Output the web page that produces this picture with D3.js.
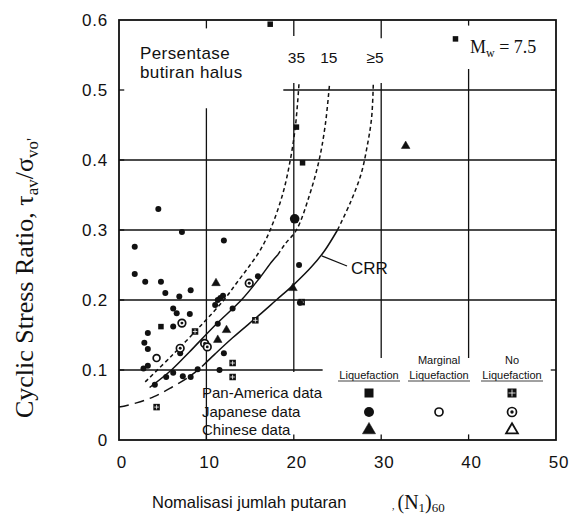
<!DOCTYPE html>
<html>
<head>
<meta charset="utf-8">
<script src="https://cdn.jsdelivr.net/npm/d3@7"></script>
<style>
  body { margin: 0; background: #fff; }
  text { fill: #111; }
</style>
</head>
<body>
<div id="chart"></div>
<script>
// tick values
const xTicks = [0, 10, 20, 30, 40, 50];
const yTicks = [0, 0.1, 0.2, 0.3, 0.4, 0.5, 0.6];

// curves: fines content 35%, 15%, <=5% (CRR)
const curve35 = [[3, 0.083], [6, 0.12], [9.4, 0.164], [12, 0.2], [13.5, 0.225], [15, 0.25],
  [16.2, 0.272], [17.3, 0.3], [18.7, 0.35], [19.6, 0.4], [20.2, 0.45], [20.6, 0.51]];
const curve15Solid = [[3.5, 0.075], [6, 0.1], [8, 0.125], [11, 0.164], [14, 0.2], [16, 0.23],
  [17.5, 0.255], [18.2, 0.265]];
const curve15Dash = [[18.2, 0.265], [19, 0.28], [20.3, 0.3], [21.8, 0.35], [22.9, 0.4],
  [23.6, 0.45], [24.1, 0.51]];
const crrLow = [[0, 0.047], [2, 0.053], [4, 0.062], [6, 0.075], [8, 0.09], [9.5, 0.105]];
const crrSolid = [[9.5, 0.105], [11, 0.123], [13, 0.146], [16, 0.178], [18, 0.2], [20, 0.222],
  [22, 0.247], [23.5, 0.27], [25, 0.3]];
const crrHigh = [[25, 0.3], [26.5, 0.34], [27.7, 0.38], [28.4, 0.42], [28.9, 0.46], [29.1, 0.51]];
const curveLabels = ["35", "15", "\u22655"];
const curveLabelX = [20.3, 24, 29.3];

// field data
const panLiq = [[4.8, 0.162], [17.3, 0.594], [38.5, 0.573], [21, 0.396], [20.3, 0.447]];
const panNo = [[8.7, 0.155], [4.3, 0.047], [15.6, 0.171], [13, 0.11], [13, 0.09], [20.9, 0.197]];
const japLiq = [[1.8, 0.276], [4.5, 0.33], [7.2, 0.297], [12, 0.285], [1.8, 0.237], [3, 0.226],
  [4.8, 0.226], [5.3, 0.21], [8.2, 0.214], [6.9, 0.205], [6.2, 0.188], [6.6, 0.181], [8.1, 0.18],
  [6.2, 0.162], [3.3, 0.153], [2.9, 0.139], [3.3, 0.13], [7, 0.124], [2.8, 0.102], [3.3, 0.106],
  [6.2, 0.096], [7.3, 0.091], [8.2, 0.09], [9, 0.101], [11.5, 0.1], [4.1, 0.079], [5.4, 0.09],
  [11, 0.193], [11.3, 0.2], [11.6, 0.203], [11.9, 0.206], [13, 0.188], [11.3, 0.166], [12, 0.124],
  [15.9, 0.234], [20.6, 0.25], [20.1, 0.316], [20.7, 0.196]];
const japMarg = [[4.3, 0.117]];
const japNo = [[7.2, 0.167], [7, 0.131], [9.8, 0.138], [10.1, 0.133], [14.9, 0.224]];
const chnLiq = [[11.1, 0.224], [12.3, 0.157], [11.3, 0.143], [32.8, 0.42], [19.9, 0.217]];

const legendRows = ["Pan-America data", "Japanese data", "Chinese data"];

const width = 579, height = 519;
const svg = d3.select("#chart").append("svg")
  .attr("width", width).attr("height", height);

const x = d3.scaleLinear().domain([0, 50]).range([119, 556]);
const y = d3.scaleLinear().domain([0, 0.6]).range([440, 20]);

const sans = "Liberation Sans, Arial, sans-serif";
const serif = "Liberation Serif, Times New Roman, serif";

// grid lines (broken as in the original)
const g = svg.append("g").attr("stroke", "#111").attr("stroke-width", 1.3);
const hLines = [[0.5, 18.8, 50], [0.4, 0, 50], [0.3, 0, 50], [0.2, 0, 50], [0.1, 0, 23.3]];
hLines.forEach(([v, a, b]) => g.append("line")
  .attr("x1", x(a)).attr("x2", x(b)).attr("y1", y(v)).attr("y2", y(v)));
const vLines = [[10, 0, 0.474], [20, 0.097, 0.51], [30, 0.117, 0.51], [40, 0.117, 0.53]];
vLines.forEach(([v, a, b]) => g.append("line")
  .attr("x1", x(v)).attr("x2", x(v)).attr("y1", y(a)).attr("y2", y(b)));
// top ticks
[[10, 0.012], [20, 0.023], [30, 0.026], [40, 0.008]].forEach(([v, l]) => g.append("line")
  .attr("x1", x(v)).attr("x2", x(v)).attr("y1", y(0.6)).attr("y2", y(0.6 - l)));
// bottom ticks
xTicks.slice(1, -1).forEach(v => g.append("line")
  .attr("x1", x(v)).attr("x2", x(v)).attr("y1", y(0)).attr("y2", y(0.008)));
// left / right ticks
yTicks.slice(1, -1).forEach(v => {
  g.append("line").attr("x1", x(0)).attr("x2", x(0.6)).attr("y1", y(v)).attr("y2", y(v));
  g.append("line").attr("x1", x(50)).attr("x2", x(49.4)).attr("y1", y(v)).attr("y2", y(v));
});

// frame
svg.append("rect")
  .attr("x", x(0)).attr("y", y(0.6))
  .attr("width", x(50) - x(0)).attr("height", y(0) - y(0.6))
  .attr("fill", "none").attr("stroke", "#111").attr("stroke-width", 1.8);

// curves
const drawCurve = (data, dash) => svg.append("path").datum(data)
  .attr("d", d3.line().x(d => x(d[0])).y(d => y(d[1])).curve(d3.curveCatmullRom))
  .attr("fill", "none").attr("stroke", "#111").attr("stroke-width", 1.5)
  .attr("stroke-dasharray", dash);
drawCurve(curve35, "4,3");
drawCurve(curve15Solid, null);
drawCurve(curve15Dash, "4,3");
drawCurve(crrLow, "10,6");
drawCurve(crrSolid, null);
drawCurve(crrHigh, "4,3");

// markers
const S = 5.5;
function fillSquare(sel, d) {
  sel.append("rect").attr("x", x(d[0]) - S / 2).attr("y", y(d[1]) - S / 2)
    .attr("width", S).attr("height", S).attr("fill", "#111");
}
function crossSquare(sel, d, s = 6.5) {
  const cx = x(d[0]), cy = y(d[1]);
  sel.append("rect").attr("x", cx - s / 2).attr("y", cy - s / 2)
    .attr("width", s).attr("height", s).attr("fill", "#111");
  sel.append("path").attr("d", `M${cx - s / 2 + 1},${cy}H${cx + s / 2 - 1}M${cx},${cy - s / 2 + 1}V${cy + s / 2 - 1}`)
    .attr("stroke", "#fff").attr("stroke-width", 0.8);
}
function fillCircle(sel, d, r = 3) {
  sel.append("circle").attr("cx", x(d[0])).attr("cy", y(d[1])).attr("r", r).attr("fill", "#111");
}
function openCircle(sel, d, r = 3.4) {
  sel.append("circle").attr("cx", x(d[0])).attr("cy", y(d[1])).attr("r", r)
    .attr("fill", "#fff").attr("stroke", "#111").attr("stroke-width", 1.7);
}
function dotCircle(sel, d, r = 3.8) {
  openCircle(sel, d, r);
  sel.append("circle").attr("cx", x(d[0])).attr("cy", y(d[1])).attr("r", r * 0.38).attr("fill", "#111");
}
function triangle(sel, d, size, filled) {
  sel.append("path").attr("d", d3.symbol(d3.symbolTriangle, size)())
    .attr("transform", `translate(${x(d[0])},${y(d[1])})`)
    .attr("fill", filled ? "#111" : "#fff").attr("stroke", "#111")
    .attr("stroke-width", filled ? 0.5 : 1.8);
}

const pts = svg.append("g");
panLiq.forEach(d => fillSquare(pts, d));
panNo.forEach(d => crossSquare(pts, d));
japLiq.forEach(d => fillCircle(pts, d, d[0] === 20.1 ? 4.8 : 3));
japMarg.forEach(d => openCircle(pts, d));
japNo.forEach(d => dotCircle(pts, d));
chnLiq.forEach(d => triangle(pts, d, 32, true));

// axis tick labels
svg.append("g").selectAll("text").data(yTicks).join("text")
  .attr("x", 108).attr("y", d => y(d)).attr("dy", "0.36em")
  .attr("text-anchor", "end").attr("font-family", sans).attr("font-size", 17)
  .attr("letter-spacing", 0.8)
  .text(d => d === 0 ? "0" : d.toFixed(1));
svg.append("g").selectAll("text").data(xTicks).join("text")
  .attr("x", d => x(d) + 3).attr("y", 462).attr("dy", "0.36em")
  .attr("text-anchor", "middle").attr("font-family", sans).attr("font-size", 17)
  .attr("letter-spacing", 0.8)
  .text(d => d);

// axis titles
const yt = svg.append("text")
  .attr("transform", "translate(33,278) rotate(-90)")
  .attr("text-anchor", "middle").attr("font-family", serif).attr("font-size", 26);
yt.append("tspan").text("Cyclic Stress Ratio, \u03C4");
yt.append("tspan").attr("font-size", 17).attr("dy", 5).text("av");
yt.append("tspan").attr("dy", -5).text("/\u03C3");
yt.append("tspan").attr("font-size", 17).attr("dy", 5).text("vo'");

svg.append("text").attr("x", 152).attr("y", 508)
  .attr("font-family", sans).attr("font-size", 16.5).text("Nomalisasi jumlah putaran");
const xt = svg.append("text").attr("x", 392).attr("y", 509)
  .attr("font-family", serif).attr("font-size", 20);
xt.append("tspan").attr("font-size", 10).text(",");
xt.append("tspan").attr("dx", 3).text("(N");
xt.append("tspan").attr("font-size", 13).attr("dy", 3).text("1");
xt.append("tspan").attr("dy", -3).text(")");
xt.append("tspan").attr("font-size", 13).attr("dy", 3).text("60");

// annotations
const fc = svg.append("text").attr("font-family", sans).attr("font-size", 17).attr("letter-spacing", 0.4);
fc.append("tspan").attr("x", 140).attr("y", 59).text("Persentase");
fc.append("tspan").attr("x", 140).attr("y", 78).text("butiran  halus");

svg.append("g").selectAll("text").data(curveLabels).join("text")
  .attr("x", (d, i) => x(curveLabelX[i])).attr("y", 63)
  .attr("text-anchor", "middle").attr("font-family", sans).attr("font-size", 15.5)
  .text(d => d);

const mw = svg.append("text").attr("x", 470).attr("y", 53)
  .attr("font-family", serif).attr("font-size", 18);
mw.append("tspan").text("M");
mw.append("tspan").attr("font-size", 12).attr("dy", 4).text("w");
mw.append("tspan").attr("dy", -4).text(" = 7.5");

svg.append("line")
  .attr("x1", x(23.2)).attr("y1", y(0.263)).attr("x2", 347).attr("y2", 266)
  .attr("stroke", "#111").attr("stroke-width", 1.2);
svg.append("text").attr("x", 351).attr("y", 274)
  .attr("font-family", sans).attr("font-size", 17).text("CRR");

// legend
const lg = svg.append("g").attr("font-family", sans);
const colX = [369, 439, 512];
const rowY = [393, 412, 430];
lg.append("text").attr("x", colX[1]).attr("y", 364).attr("text-anchor", "middle")
  .attr("font-size", 11).text("Marginal");
lg.append("text").attr("x", colX[2]).attr("y", 364).attr("text-anchor", "middle")
  .attr("font-size", 11).text("No");
colX.forEach(cx => {
  lg.append("text").attr("x", cx).attr("y", 379).attr("text-anchor", "middle")
    .attr("font-size", 11).text("Liquefaction");
  lg.append("line").attr("x1", cx - 31).attr("x2", cx + 31).attr("y1", 381).attr("y2", 381)
    .attr("stroke", "#111").attr("stroke-width", 0.8);
});
lg.selectAll(".row").data(legendRows).join("text")
  .attr("x", 202).attr("y", (d, i) => rowY[i]).attr("dy", "0.36em")
  .attr("font-size", 15).text(d => d);

const inv = p => [x.invert(p[0]), y.invert(p[1])];
const SL = 9;
lg.append("rect").attr("x", colX[0] - SL / 2).attr("y", rowY[0] - SL / 2)
  .attr("width", SL).attr("height", SL).attr("fill", "#111");
fillCircle(lg, inv([colX[0], rowY[1]]), 5);
triangle(lg, inv([colX[0], rowY[2]]), 75, true);
openCircle(lg, inv([colX[1], rowY[1]]), 4);
crossSquare(lg, inv([colX[2], rowY[0]]), 9);
dotCircle(lg, inv([colX[2], rowY[1]]), 4.5);
triangle(lg, inv([colX[2], rowY[2]]), 60, false);
</script>
</body>
</html>
